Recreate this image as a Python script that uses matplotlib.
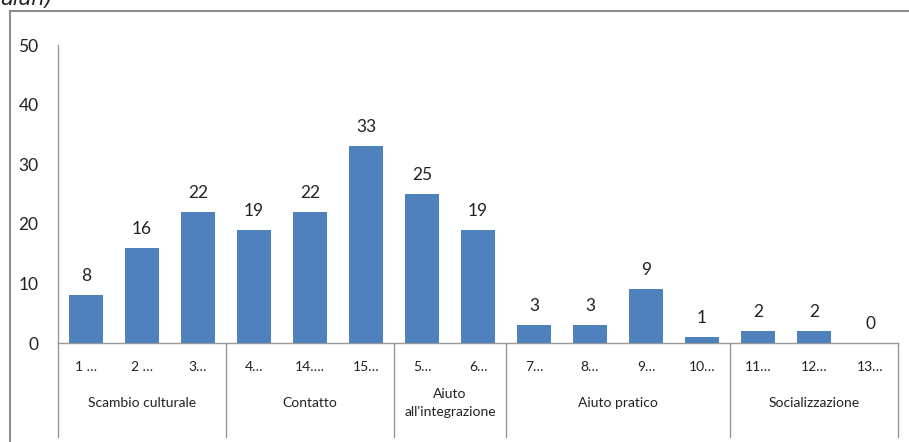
import matplotlib
matplotlib.use("Agg")
import matplotlib.pyplot as plt
from matplotlib.lines import Line2D

plt.rcParams['font.family'] = ['Lato', 'DejaVu Sans']

categories = ["1 …", "2 …", "3…", "4…", "14….", "15…", "5…", "6…",
              "7…", "8…", "9…", "10…", "11…", "12…", "13…"]
values = [8, 16, 22, 19, 22, 33, 25, 19, 3, 3, 9, 1, 2, 2, 0]
groups = ["Scambio culturale", "Contatto", "Aiuto\nall'integrazione",
          "Aiuto pratico", "Socializzazione"]
group_sizes = [3, 3, 2, 4, 3]
yticks = [0, 10, 20, 30, 40, 50]

W, H = 909, 442
fig = plt.figure(figsize=(W / 100, H / 100), dpi=100)
fig.patch.set_facecolor("white")

ax_l, ax_r, ax_b, ax_t = 58 / W, 898 / W, 1 - 343 / H, 1 - 45 / H
ax = fig.add_axes([ax_l, ax_b, ax_r - ax_l, ax_t - ax_b])

n = len(values)
x = list(range(n))
bars = ax.bar(x, values, width=0.6, color="#4F81BD", zorder=3)
ax.set_xlim(-0.5, n - 0.5)
ax.set_ylim(0, 50)
ax.set_yticks(yticks)
ax.set_yticklabels([str(t) for t in yticks], fontsize=12.5, color="#222222")
ax.tick_params(axis="y", length=0, pad=14)
ax.set_xticks([])

for s in ["top", "right"]:
    ax.spines[s].set_visible(False)
for s in ["left", "bottom"]:
    ax.spines[s].set_color("#999999")
    ax.spines[s].set_linewidth(1.0)

for xi, v in zip(x, values):
    ax.annotate(str(v), (xi, v), xytext=(0, 8), textcoords="offset points",
                ha="center", va="bottom", fontsize=12.5, color="#222222")

# category labels under each bar
trans = ax.get_xaxis_transform()
cat_y = -24 / (343 - 45)
for xi, c in zip(x, categories):
    ax.text(xi, cat_y, c, transform=trans, ha="center", va="center",
            fontsize=10, color="#222222", clip_on=False)

# group labels and separators
grp_y = -60 / (343 - 45)
sep_bottom = -94 / (343 - 45)
start = 0
bounds = [-0.5]
for g, size in zip(groups, group_sizes):
    center = start + (size - 1) / 2
    ax.text(center, grp_y, g, transform=trans, ha="center", va="center",
            fontsize=10, color="#222222", clip_on=False, linespacing=1.5)
    start += size
    bounds.append(start - 0.5)
for b in bounds:
    ax.add_line(Line2D([b, b], [0, sep_bottom], transform=trans,
                       color="#999999", lw=1.0, clip_on=False))

# outer frame (left and top edges)
fig.add_artist(Line2D([10 / W, 10 / W], [0, 1 - 11 / H], transform=fig.transFigure,
                      color="#8c8c8c", lw=1.5))
fig.add_artist(Line2D([10 / W, 1], [1 - 11 / H, 1 - 11 / H], transform=fig.transFigure,
                      color="#8c8c8c", lw=1.5))

# tail of the caption line above the chart
fig.text(0 / W, 1 - 5 / H, "alan)", ha="left", va="baseline", fontsize=15,
         style="italic", family="DejaVu Sans", color="#222222")

fig.savefig("out.png", dpi=100)
